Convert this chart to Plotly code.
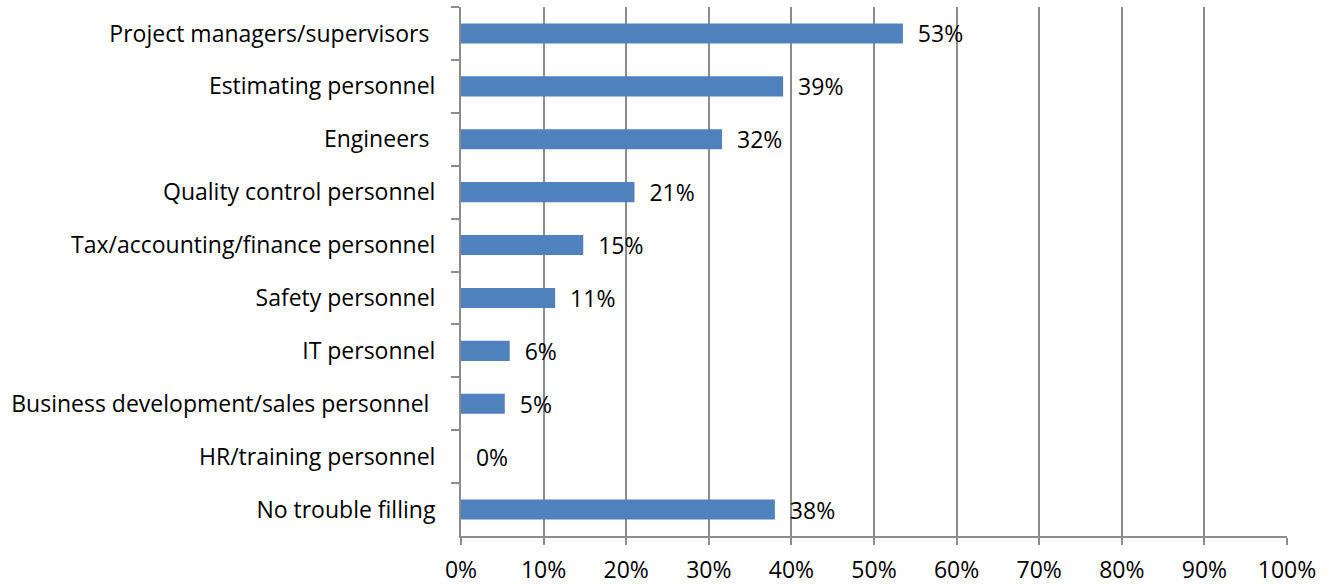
import plotly.graph_objects as go

categories = [
    "Project managers/supervisors\u00a0",
    "Estimating personnel",
    "Engineers\u00a0",
    "Quality control personnel",
    "Tax/accounting/finance personnel",
    "Safety personnel",
    "IT personnel",
    "Business development/sales personnel\u00a0",
    "HR/training personnel",
    "No trouble filling",
]
values = [53.5, 39.0, 31.6, 21.0, 14.8, 11.4, 5.9, 5.3, 0.0, 38.0]
labels = ["53%", "39%", "32%", "21%", "15%", "11%", "6%", "5%", "0%", "38%"]

tick_vals = [0, 10, 20, 30, 40, 50, 60, 70, 80, 90, 100]
tick_text = ["0%", "10%", "20%", "30%", "40%", "50%", "60%", "70%", "80%", "90%", "100%"]

FONT = "Open Sans"
FS = 23
GRAY = "#8C8C8C"

fig = go.Figure(go.Bar(
    y=categories,
    x=values,
    orientation="h",
    marker=dict(color="#4F81BD", line=dict(width=0)),
    text=["\u00a0\u00a0" + t for t in labels],
    textposition="outside",
    constraintext="none",
    textfont=dict(family=FONT, size=FS, color="#000000"),
    cliponaxis=False,
    width=0.38,
))

fig.update_layout(
    width=1334, height=584,
    margin=dict(l=461, r=47, t=7, b=48),
    paper_bgcolor="white", plot_bgcolor="white",
    showlegend=False,
    font=dict(family=FONT, size=FS, color="#000000"),
    bargap=0.62,
)
fig.update_xaxes(
    range=[0, 100],
    tickvals=tick_vals, ticktext=tick_text,
    showgrid=True, gridcolor=GRAY, gridwidth=2,
    showline=True, linecolor=GRAY, linewidth=2,
    ticks="outside", ticklen=7, tickcolor=GRAY, tickwidth=2,
    zeroline=False,
    tickfont=dict(family=FONT, size=FS),
    ticklabelstandoff=5,
    automargin=False,
)
fig.update_yaxes(
    categoryorder="array", categoryarray=categories,
    autorange="reversed",
    showline=True, linecolor=GRAY, linewidth=2,
    ticks="outside", ticklen=8, tickcolor=GRAY, tickwidth=2, tickson="boundaries",
    showgrid=False,
    tickfont=dict(family=FONT, size=FS),
    ticklabelstandoff=19,
    automargin=False,
)

fig.write_html("out.html")
